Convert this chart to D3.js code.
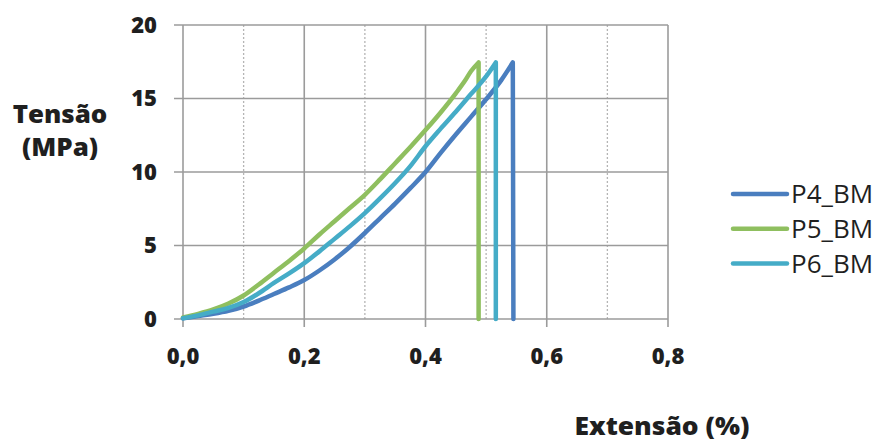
<html>
<head>
<script src="https://d3js.org/d3.v7.min.js"></script>
<style>
body { margin:0; background:#fff; }
text { font-family: "Open Sans", sans-serif; fill:#1f1f1f; }
</style>
</head>
<body>
<script>
var width = 882;
var height = 443;

// extension (%) and stress (MPa)
var extP4 = [0, 0.025, 0.05, 0.075, 0.1, 0.125, 0.15, 0.175, 0.2, 0.225, 0.25, 0.275, 0.3, 0.325, 0.35, 0.375, 0.4, 0.425, 0.45, 0.475, 0.5, 0.525, 0.544];
var strP4 = [0.05, 0.2, 0.35, 0.55, 0.85, 1.25, 1.7, 2.15, 2.65, 3.3, 4.05, 4.9, 5.85, 6.85, 7.85, 8.9, 10.0, 11.3, 12.55, 13.75, 14.95, 16.25, 17.45];
var extP5 = [0, 0.025, 0.05, 0.075, 0.1, 0.125, 0.15, 0.175, 0.2, 0.225, 0.25, 0.275, 0.3, 0.325, 0.35, 0.375, 0.4, 0.425, 0.45, 0.465, 0.475, 0.4876];
var strP5 = [0.1, 0.35, 0.65, 1.05, 1.6, 2.35, 3.15, 3.95, 4.8, 5.75, 6.65, 7.55, 8.45, 9.5, 10.6, 11.7, 12.85, 14.05, 15.35, 16.2, 16.85, 17.45];
var extP6 = [0, 0.025, 0.05, 0.075, 0.1, 0.125, 0.15, 0.175, 0.2, 0.225, 0.25, 0.275, 0.3, 0.325, 0.35, 0.375, 0.4, 0.425, 0.45, 0.475, 0.5, 0.516];
var strP6 = [0.05, 0.25, 0.5, 0.75, 1.15, 1.75, 2.45, 3.1, 3.8, 4.6, 5.45, 6.3, 7.2, 8.2, 9.25, 10.4, 11.75, 12.95, 14.1, 15.3, 16.5, 17.45];
// extension where each specimen breaks (vertical drop to 0)
var breakAt = [0.545, 0.4876, 0.516];

var seriesNames = ["P4_BM", "P5_BM", "P6_BM"];
var seriesColors = ["#4a7ebf", "#8fbf5f", "#45acc7"];
var xTicks = [0, 0.2, 0.4, 0.6, 0.8];
var xMinor = [0.1, 0.3, 0.5, 0.7];
var yTicks = [0, 5, 10, 15, 20];

var series = [
  {name: seriesNames[0], color: seriesColors[0], x: extP4, y: strP4, b: breakAt[0]},
  {name: seriesNames[1], color: seriesColors[1], x: extP5, y: strP5, b: breakAt[1]},
  {name: seriesNames[2], color: seriesColors[2], x: extP6, y: strP6, b: breakAt[2]}
];

var x = d3.scaleLinear().domain([0, 0.8]).range([183, 668]);
var y = d3.scaleLinear().domain([0, 20]).range([319, 25]);

var svg = d3.select("body").append("svg")
    .attr("width", width)
    .attr("height", height);

var grid = svg.append("g");
// dotted minor verticals
grid.selectAll(".minor")
  .data(xMinor)
  .enter().append("line")
    .attr("x1", function(d) { return x(d); })
    .attr("x2", function(d) { return x(d); })
    .attr("y1", y(20))
    .attr("y2", y(0))
    .attr("stroke", "#b5b5b5")
    .attr("stroke-width", 1.3)
    .attr("stroke-dasharray", "2,2");
// horizontal lines (extend left as ticks)
grid.selectAll(".h")
  .data(yTicks)
  .enter().append("line")
    .attr("x1", x(0) - 9)
    .attr("x2", x(0.8))
    .attr("y1", function(d) { return y(d); })
    .attr("y2", function(d) { return y(d); })
    .attr("stroke", "#9b9b9b")
    .attr("stroke-width", 1.6);
// major verticals (extend down as ticks)
grid.selectAll(".v")
  .data(xTicks)
  .enter().append("line")
    .attr("x1", function(d) { return x(d); })
    .attr("x2", function(d) { return x(d); })
    .attr("y1", y(20))
    .attr("y2", y(0) + 8)
    .attr("stroke", "#9b9b9b")
    .attr("stroke-width", 1.6);

// tick labels
svg.append("g").selectAll("text")
  .data(yTicks)
  .enter().append("text")
    .attr("x", 157)
    .attr("y", function(d) { return y(d); })
    .attr("dy", "0.36em")
    .attr("text-anchor", "end")
    .style("font-size", "22px")
    .style("font-weight", 800)
    .text(function(d) { return d; });

svg.append("g").selectAll("text")
  .data(xTicks)
  .enter().append("text")
    .attr("x", function(d) { return x(d); })
    .attr("y", 364)
    .attr("text-anchor", "middle")
    .style("font-size", "22px")
    .style("font-weight", 800)
    .text(function(d) { return d3.format(".1f")(d).replace(".", ","); });

// curves: smooth rise, then straight drop at break
var line = d3.line()
  .x(function(d) { return x(d[0]); })
  .y(function(d) { return y(d[1]); })
  .curve(d3.curveMonotoneX);

svg.append("g").selectAll("path")
  .data(series)
  .enter().append("path")
    .attr("d", function(s) {
      return line(d3.zip(s.x, s.y)) + "L" + x(s.b) + "," + y(0);
    })
    .attr("fill", "none")
    .attr("stroke", function(s) { return s.color; })
    .attr("stroke-width", 4.5)
    .attr("stroke-linejoin", "round")
    .attr("stroke-linecap", "round");

// axis titles
svg.append("text")
    .attr("transform", "translate(60,123) scale(1.08,1)")
    .attr("text-anchor", "middle")
    .style("font-size", "24px")
    .style("font-weight", 800)
    .text("Tensão");
svg.append("text")
    .attr("transform", "translate(60,156) scale(1.08,1)")
    .attr("text-anchor", "middle")
    .style("font-size", "24px")
    .style("font-weight", 800)
    .text("(MPa)");
svg.append("text")
    .attr("transform", "translate(662,435) scale(1.1,1)")
    .attr("text-anchor", "middle")
    .style("font-size", "24px")
    .style("font-weight", 800)
    .text("Extensão (%)");

// legend
var legend = svg.append("g").selectAll("g")
  .data(series)
  .enter().append("g")
    .attr("transform", function(d, i) { return "translate(0," + (194 + i * 34.7) + ")"; });
legend.append("line")
    .attr("x1", 733)
    .attr("x2", 787)
    .attr("stroke", function(d) { return d.color; })
    .attr("stroke-width", 4.5)
    .attr("stroke-linecap", "round");
legend.append("text")
    .attr("x", 791)
    .attr("dy", "0.36em")
    .style("font-size", "26px")
    .text(function(d) { return d.name; });
</script>
</body>
</html>
